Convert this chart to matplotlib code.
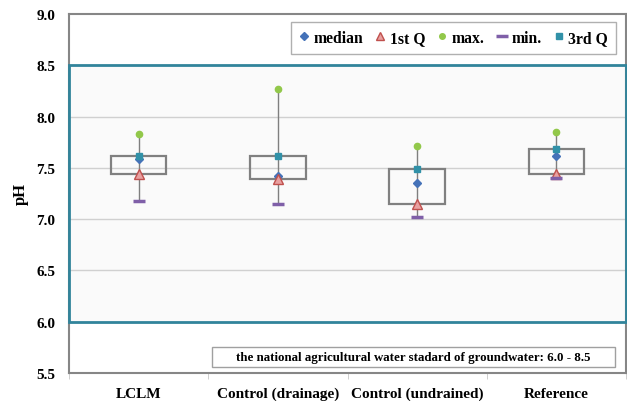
import numpy as np
import matplotlib
matplotlib.use("Agg")
import matplotlib.pyplot as plt
from matplotlib.lines import Line2D
from matplotlib.patches import Rectangle

categories = ['LCLM', 'Control (drainage)', 'Control (undrained)', 'Reference']
median = [7.59, 7.42, 7.35, 7.62]
q1 = [7.44, 7.39, 7.15, 7.44]
q3 = [7.62, 7.62, 7.49, 7.68]
vmax = [7.83, 8.27, 7.71, 7.85]
vmin = [7.18, 7.15, 7.02, 7.40]
std_low, std_high = 6.0, 8.5
yticks = [5.5, 6.0, 6.5, 7.0, 7.5, 8.0, 8.5, 9.0]

plt.rcParams['font.family'] = ['Liberation Serif', 'DejaVu Serif']
plt.rcParams['font.weight'] = 'bold'

fig = plt.figure(figsize=(6.27, 4.02), dpi=100)
ax = fig.add_axes([69/627, 28/402, 557/627, 359/402])

x = np.arange(len(categories))

# standard range band: fill below grid, border above everything
ax.add_patch(Rectangle((0, std_low), 1, std_high - std_low, transform=ax.get_yaxis_transform(),
                       facecolor='#fafafa', edgecolor='none', zorder=1))
ax.add_patch(Rectangle((0, std_low), 1, std_high - std_low, transform=ax.get_yaxis_transform(),
                       fill=False, edgecolor='#31849b', lw=2, zorder=2.7, clip_on=False))

for yv in [6.5, 7.0, 7.5, 8.0]:
    ax.axhline(yv, color='#d0d0d0', lw=1, zorder=1.5)

# whiskers and boxes
ax.vlines(x, vmin, vmax, color='#7f7f7f', lw=1, zorder=2)
ax.bar(x, np.array(q3) - np.array(q1), bottom=q1, width=0.4, fill=False,
       edgecolor='#808080', lw=1.6, zorder=3)

ax.plot(x, median, 'D', color='#4572b8', ms=4.5, ls='none', zorder=4)
ax.plot(x, q1, '^', mfc='#e8a0a0', mec='#c0504d', ms=7, ls='none', zorder=4)
ax.plot(x, vmax, 'o', color='#92c84a', ms=4.5, ls='none', zorder=4)
ax.plot(x, vmin, '_', color='#7f5fa8', ms=9, mew=2.5, ls='none', zorder=4)
ax.plot(x, q3, 's', color='#3191a8', ms=5, ls='none', zorder=4)

ax.set_xlim(-0.5, len(categories) - 0.5)
ax.set_ylim(5.5, 9.0)
ax.set_yticks(yticks)
ax.set_yticklabels(['%.1f' % v for v in yticks], fontsize=11, fontweight='bold')
ax.set_xticks(x)
ax.set_xticklabels(categories, fontsize=11, fontweight='bold')
ax.set_xticks(np.arange(-0.5, len(categories)), minor=True)
ax.tick_params(axis='x', which='major', length=0, pad=10)
ax.tick_params(axis='x', which='minor', length=4, color='#c8c8c8')
ax.tick_params(axis='y', length=0, pad=10)
ax.set_ylabel('pH', fontsize=12, fontweight='bold', labelpad=5)

for s in ax.spines.values():
    s.set_color('#868686')
    s.set_linewidth(1.5)

handles = [
    Line2D([], [], marker='D', color='#4572b8', ms=4, ls='none', label='median'),
    Line2D([], [], marker='^', mfc='#e8a0a0', mec='#c0504d', ms=6, ls='none', label='1st Q'),
    Line2D([], [], marker='o', color='#92c84a', ms=4, ls='none', label='max.'),
    Line2D([], [], marker='_', color='#7f5fa8', ms=9, mew=2.5, ls='none', label='min.'),
    Line2D([], [], marker='s', color='#3191a8', ms=4, ls='none', label='3rd Q'),
]
leg = ax.legend(handles=handles, loc='upper right', bbox_to_anchor=(0.982, 0.978), ncol=5,
                fancybox=False, framealpha=1, edgecolor='#b0b0b0', handlelength=0.6,
                handletextpad=0.3, columnspacing=0.8, borderpad=0.5, borderaxespad=0,
                prop={'family': 'Liberation Serif', 'weight': 'bold', 'size': 11.3})
leg.get_frame().set_linewidth(1)

# note box
ax.add_patch(Rectangle((0.2567, 0.0167), 0.7233, 0.0557, transform=ax.transAxes,
                       facecolor='white', edgecolor='#a0a0a0', lw=1, zorder=5))
ax.text(0.618, 0.0446, 'the national agricultural water stadard of groundwater: 6.0 - 8.5',
        transform=ax.transAxes, ha='center', va='center', fontsize=9.3, fontweight='bold',
        zorder=6)

fig.savefig('out.png', dpi=100)
